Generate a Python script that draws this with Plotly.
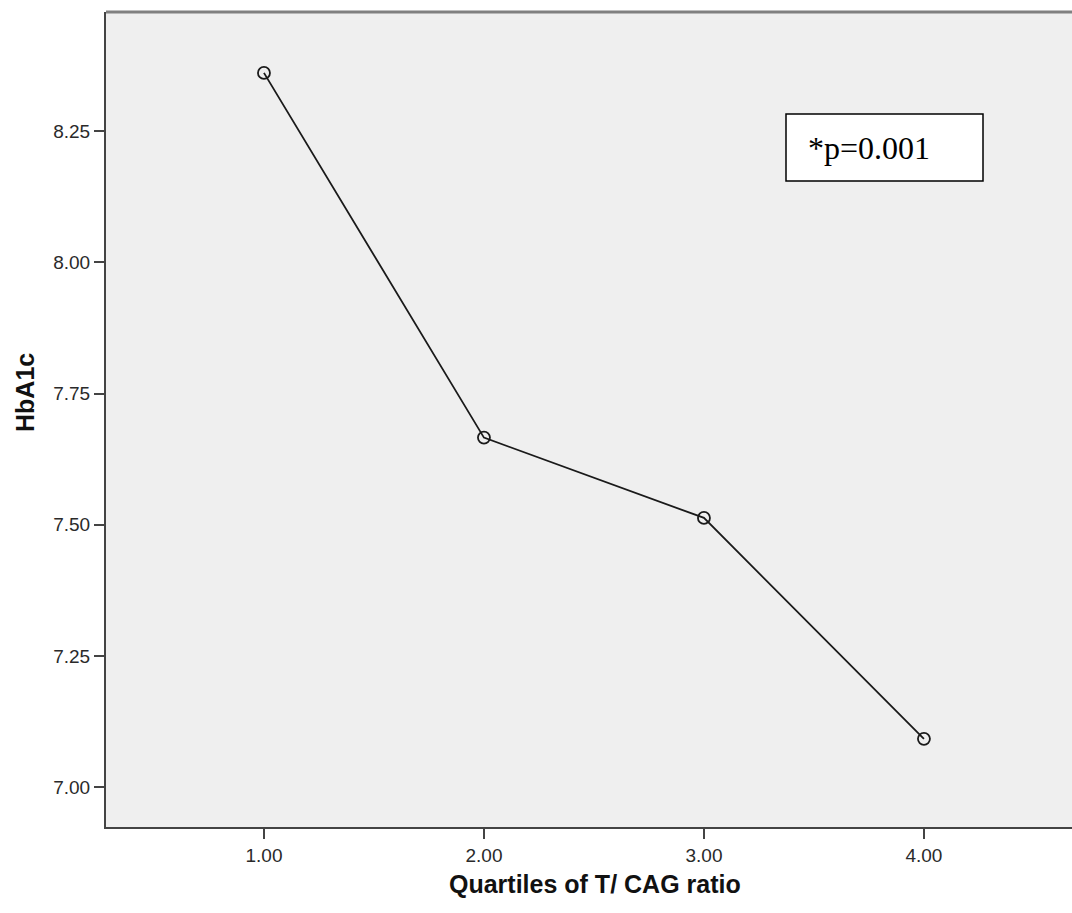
import plotly.graph_objects as go

quartiles = [1.0, 2.0, 3.0, 4.0]
hba1c = [8.361, 7.666, 7.513, 7.092]
x_ticks = [1.0, 2.0, 3.0, 4.0]
y_ticks = [7.00, 7.25, 7.50, 7.75, 8.00, 8.25]

# absolute page pixels of the plotting area (the reference crops it on the right)
PLOT_L, PLOT_T, PLOT_B = 106, 12, 827
W, H = 1072, 913
L, T, R = PLOT_L, PLOT_T, 0
B = H - PLOT_B
pw = W - L - R
ph = H - T - B

def px(x):
    return (x - L) / pw

def py(y):
    return (H - B - y) / ph

fig = go.Figure()
fig.add_trace(go.Scatter(
    x=quartiles, y=hba1c, mode="lines+markers",
    line=dict(color="#1a1a1a", width=1.8),
    marker=dict(symbol="circle-open", size=12, color="#1a1a1a", line=dict(width=1.8)),
    showlegend=False, hoverinfo="x+y",
))

tickfont = dict(family="Liberation Sans, Arial, sans-serif", size=19, color="#2a2a2a")
fig.update_layout(
    width=W, height=H,
    margin=dict(l=L, r=R, t=T, b=B),
    paper_bgcolor="white",
    plot_bgcolor="#EFEFEF",
    xaxis=dict(range=[0.282, 4.673], tickvals=x_ticks, tickformat=".2f",
               showgrid=False, zeroline=False, showline=True, linecolor="#444444",
               linewidth=2, ticks="outside", ticklen=10, tickwidth=2, tickcolor="#444444",
               tickfont=tickfont),
    yaxis=dict(range=[6.924, 8.477], tickvals=y_ticks, tickformat=".2f",
               showgrid=False, zeroline=False, showline=True, linecolor="#444444",
               linewidth=2, ticks="outside", ticklen=10, tickwidth=2, tickcolor="#444444",
               tickfont=tickfont),
)

# top border
fig.add_shape(type="line", xref="paper", yref="paper", x0=0, x1=1, y0=1, y1=1,
              line=dict(color="#808080", width=3))

# p-value box
fig.add_shape(type="rect", xref="paper", yref="paper",
              x0=px(786), x1=px(983), y0=py(181), y1=py(114),
              line=dict(color="black", width=1.5), fillcolor="white")
fig.add_annotation(text="*p=0.001", xref="paper", yref="paper",
                   x=px(806), y=py(147.5), xanchor="left", yanchor="middle",
                   showarrow=False,
                   font=dict(family="Liberation Serif, Times New Roman, serif", size=32, color="black"))

# axis titles
titlefont = dict(family="Liberation Sans, Arial, sans-serif", size=25, color="#111111")
fig.add_annotation(text="<b>Quartiles of T/ CAG ratio</b>", xref="paper", yref="paper",
                   x=px(595), y=py(884), xanchor="center", yanchor="middle",
                   showarrow=False, font=titlefont)
fig.add_annotation(text="<b>HbA1c</b>", xref="paper", yref="paper",
                   x=px(25), y=py(393), xanchor="center", yanchor="middle",
                   textangle=-90, showarrow=False, font=titlefont)

fig.write_html("out.html", config={"displayModeBar": False},
               post_script="document.body.style.margin='0';document.body.style.overflow='hidden';")
